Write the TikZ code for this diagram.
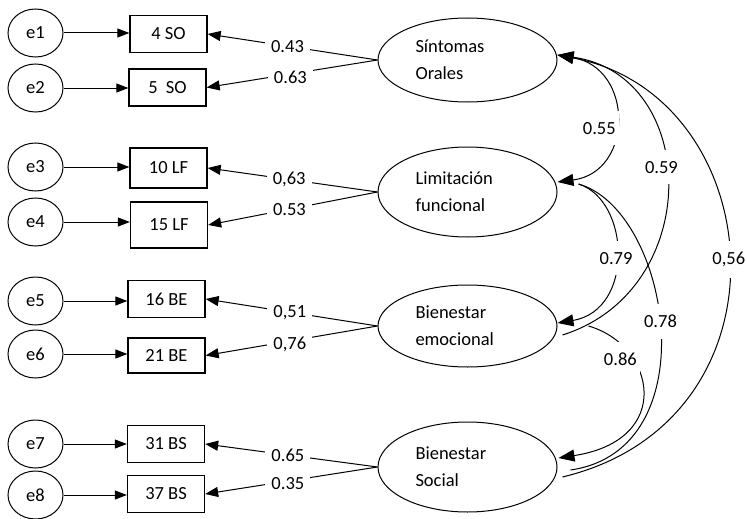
\documentclass[tikz,border=0pt]{standalone}
\usepackage{fontspec}
\setmainfont{Carlito}
\usetikzlibrary{arrows.meta,calc,shapes.geometric}
\begin{document}
\begin{tikzpicture}[x=1pt,y=-1pt,
  every node/.style={font=\fontsize{18.5}{27}\selectfont},
  err/.style={ellipse, draw, line width=1pt, minimum width=55pt, minimum height=48pt, inner sep=0pt},
  obs/.style={rectangle, draw, line width=1.3pt, minimum width=77pt, minimum height=37pt, inner sep=0pt},
  lat/.style={ellipse, draw, line width=1pt, minimum width=179pt, minimum height=84pt, inner sep=0pt, text width=104pt, align=left},
  lbl/.style={fill=white, inner xsep=6pt, inner ysep=3pt},
  clbl/.style={fill=white, inner xsep=3pt, inner ysep=11pt},
  harrow/.style={-{Triangle[length=12pt,width=9pt]}, line width=1pt},
  larrow/.style={{Triangle[length=13pt,width=10pt]}-, line width=1pt},
  cov/.style={line width=1pt},
  covboth/.style={{Triangle[length=16pt,width=12pt]}-{Triangle[length=16pt,width=12pt]}},
  covstart/.style={{Triangle[length=16pt,width=12pt]}-},
  covend/.style={-{Triangle[length=16pt,width=12pt]}}
]
\useasboundingbox (0,0) rectangle (747,519);

% error terms
\node[err] (e1) at (35.5,33) {e1};
\node[err] (e2) at (35.5,88) {e2};
\node[err] (e3) at (35.5,167) {e3};
\node[err] (e4) at (35.5,222) {e4};
\node[err] (e5) at (35.5,301) {e5};
\node[err] (e6) at (35.5,354) {e6};
\node[err] (e7) at (35.5,444) {e7};
\node[err] (e8) at (35.5,495) {e8};

% observed items
\node[obs] (b1) at (168.5,34) {4 SO};
\node[obs] (b2) at (167.5,87.5) {5\ \ SO};
\node[obs, minimum height=40pt] (b3) at (168.5,168) {10 LF};
\node[obs, minimum height=46pt] (b4) at (169,225) {15 LF};
\node[obs] (b5) at (166.5,299) {16 BE};
\node[obs, minimum height=35pt] (b6) at (166.5,355.5) {21 BE};
\node[obs] (b7) at (166,444) {31 BS};
\node[obs] (b8) at (166,494) {37 BS};

% latent factors
\node[lat] (SO) at (467.5,60) {Síntomas\\Orales};
\node[lat, minimum height=90pt] (LF) at (467.5,192) {Limitación\\funcional};
\node[lat, minimum height=82pt] (BE) at (467.5,326) {Bienestar\\emocional};
\node[lat, minimum height=90pt] (BS) at (467.5,467) {Bienestar\\Social};

% error arrows
\draw[harrow] (e1.east) -- (e1.east -| b1.west);
\draw[harrow] (e2.east) -- (e2.east -| b2.west);
\draw[harrow] (e3.east) -- (e3.east -| b3.west);
\draw[harrow] (e4.east) -- (e4.east -| b4.west);
\draw[harrow] (e5.east) -- (e5.east -| b5.west);
\draw[harrow] (e6.east) -- (e6.east -| b6.west);
\draw[harrow] (e7.east) -- (e7.east -| b7.west);
\draw[harrow] (e8.east) -- (e8.east -| b8.west);

% loadings
\draw[larrow] (b1.east) -- node[lbl, pos=0.47] {0.43} (SO.west);
\draw[larrow] (b2.east) -- node[lbl, pos=0.49, yshift=-3pt] {0.63} (SO.west);
\draw[larrow] (b3.east) -- node[lbl, pos=0.48] {0,63} (LF.west);
\draw[larrow] (b4.east) -- node[lbl, pos=0.48] {0.53} (LF.west);
\draw[larrow] (b5.east) -- node[lbl, pos=0.49] {0,51} (BE.west);
\draw[larrow] (b6.east) -- node[lbl, pos=0.49, yshift=-3pt] {0,76} (BE.west);
\draw[larrow] (b7.east) -- node[lbl, pos=0.48] {0.65} (BS.west);
\draw[larrow] (b8.east) -- node[lbl, pos=0.48, yshift=-3pt] {0.35} (BS.west);

% covariances
\draw[cov, covboth] ($(SO.east)+(0,-5)$) .. controls (634,68) and (634,172) .. node[clbl, pos=0.55, xshift=-15pt] {0.55} ($(LF.east)+(0,-10)$);
\draw[cov, covstart] ($(SO.east)+(0,-5)$) .. controls (700,75) and (705,290) .. node[clbl, pos=0.45, xshift=-4pt] {0.59} ($(BE.east)+(5,9)$);
\draw[cov, covstart] ($(SO.east)+(0,-5)$) .. controls (770,95) and (800,420) .. node[clbl, pos=0.5] {0,56} ($(BS.east)+(5,10)$);
\draw[cov, covend] ($(LF.east)+(21,-8)$) .. controls (630,200) and (635,310) .. node[clbl, pos=0.52] {0.79} ($(BE.east)+(0,-3)$);
\draw[cov] ($(LF.east)+(21,-8)$) .. controls (670,210) and (710,450) .. node[clbl, pos=0.48] {0.78} ($(BS.east)+(13,3)$);
\draw[cov, covend] ($(BE.east)+(31,0)$) .. controls (655,345) and (675,440) .. node[clbl, pos=0.3, xshift=-13pt] {0.86} ($(BS.east)+(1,-9)$);
\end{tikzpicture}
\end{document}
